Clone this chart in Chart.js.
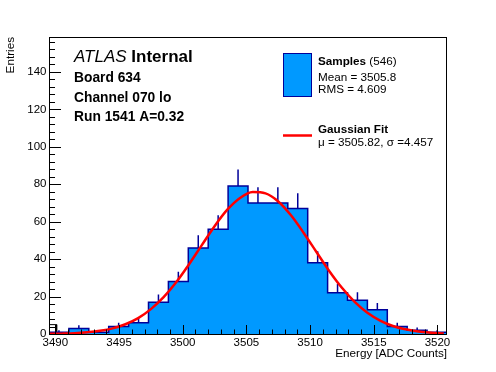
<!DOCTYPE html>
<html>
<head>
<meta charset="utf-8">
<script src="https://cdn.jsdelivr.net/npm/chart.js@4.4.1/dist/chart.umd.min.js"></script>
<style>
  html, body { margin: 0; padding: 0; background: #fff; }
  canvas { display: block; }
</style>
</head>
<body>
<canvas id="chart" width="496" height="372"></canvas>
<script>
// histogram: 20 bins starting at binLow
const binLow = 3489.5
const binWidth = 1.5625
const counts = [1, 3, 1, 4, 6, 17, 28, 46, 56, 79, 70, 70, 67, 38, 22, 18, 13, 4, 2, 1]

// the small empty box at the left edge of the frame
const edgeBoxX = [3489.5, 3490.1]
const edgeBoxY = 5

// gaussian fit
const fitX = [3489.5, 3490.5, 3491.5, 3492.5, 3493.5, 3494.5, 3495.5, 3496.5, 3497.5, 3498.5, 3499.5,
  3500.5, 3501.5, 3502.5, 3503.5, 3504.5, 3505.5, 3506.5, 3507.5, 3508.5, 3509.5, 3510.5,
  3511.5, 3512.5, 3513.5, 3514.5, 3515.5, 3516.5, 3517.5, 3518.5, 3519.5, 3520.5]
const fitY = [0.1, 0.2, 0.4, 0.9, 1.7, 3.0, 5.2, 8.5, 13.3, 19.7, 27.8,
  37.3, 47.5, 57.6, 66.4, 72.7, 75.8, 75.1, 70.8, 63.4, 54.0, 43.8,
  33.7, 24.7, 17.2, 11.4, 7.2, 4.3, 2.5, 1.3, 0.7, 0.3]

const xTicks = [3490, 3495, 3500, 3505, 3510, 3515, 3520]
const xMinorTicks = [3491, 3492, 3493, 3494, 3496, 3497, 3498, 3499, 3501, 3502, 3503, 3504,
  3506, 3507, 3508, 3509, 3511, 3512, 3513, 3514, 3516, 3517, 3518, 3519]
const yTicks = [0, 20, 40, 60, 80, 100, 120, 140]
const yMinorTicks = [4, 8, 12, 16, 24, 28, 32, 36, 44, 48, 52, 56, 64, 68, 72, 76, 84, 88, 92, 96,
  104, 108, 112, 116, 124, 128, 132, 136, 144, 148, 152, 156]
const yMax = 158.66

const FONT = "'Liberation Sans', Arial, Helvetica, sans-serif"
const FILL = "#0099ff"
const LINE = "#000099"

const xMax = binLow + counts.length * binWidth
const edges = counts.map((c, i) => binLow + i * binWidth)

const histPoints = [{ x: binLow, y: 0 }, ...counts.map((c, i) => ({ x: edges[i], y: c })), { x: xMax, y: 0 }]

const errPoints = []
counts.forEach((c, i) => {
  const xc = edges[i] + binWidth / 2
  errPoints.push({ x: xc, y: c }, { x: xc, y: c + Math.sqrt(c) }, { x: xc, y: null })
})

const edgeBox = [
  { x: edgeBoxX[0], y: 0 }, { x: edgeBoxX[0], y: edgeBoxY },
  { x: edgeBoxX[1], y: edgeBoxY }, { x: edgeBoxX[1], y: 0 }
]

const fitPoints = fitX.map((x, i) => ({ x: x, y: fitY[i] }))

// frame, inner ticks and the text boxes drawn on top of the plot
const decorations = {
  id: "decorations",
  afterDraw(chart) {
    const { ctx, chartArea: a, scales: { x, y } } = chart
    ctx.save()
    ctx.strokeStyle = "#000"
    ctx.lineWidth = 1
    ctx.strokeRect(a.left + 0.5, a.top + 0.5, a.right - a.left - 1, a.bottom - a.top)

    ctx.beginPath()
    xTicks.forEach(v => {
      const px = Math.round(x.getPixelForValue(v)) + 0.5
      ctx.moveTo(px, a.bottom); ctx.lineTo(px, a.bottom - 9)
    })
    xMinorTicks.forEach(v => {
      const px = Math.round(x.getPixelForValue(v)) + 0.5
      ctx.moveTo(px, a.bottom); ctx.lineTo(px, a.bottom - 4.5)
    })
    yTicks.forEach(v => {
      const py = Math.round(y.getPixelForValue(v)) + 0.5
      ctx.moveTo(a.left, py); ctx.lineTo(a.left + 12, py)
    })
    yMinorTicks.forEach(v => {
      const py = Math.round(y.getPixelForValue(v)) + 0.5
      ctx.moveTo(a.left, py); ctx.lineTo(a.left + 6, py)
    })
    ctx.stroke()

    ctx.fillStyle = "#000"
    ctx.textBaseline = "alphabetic"
    ctx.textAlign = "left"

    ctx.font = "italic 17px " + FONT
    ctx.fillText("ATLAS", 74, 62)
    const w = ctx.measureText("ATLAS ").width
    ctx.font = "bold 17px " + FONT
    ctx.fillText("Internal", 74 + w, 62)

    ctx.font = "bold 13.8px " + FONT
    ctx.fillText("Board 634", 74, 82)
    ctx.fillText("Channel 070 lo", 74, 102)
    ctx.fillText("Run 1541 A=0.32", 74, 121)

    // legend
    ctx.fillStyle = FILL
    ctx.fillRect(283.5, 53.5, 28, 43)
    ctx.strokeStyle = LINE
    ctx.strokeRect(283.5, 53.5, 28, 43)

    ctx.strokeStyle = "#ff0000"
    ctx.lineWidth = 2.5
    ctx.beginPath(); ctx.moveTo(283, 135.5); ctx.lineTo(312, 135.5); ctx.stroke()

    ctx.fillStyle = "#000"
    ctx.font = "bold 11.7px " + FONT
    ctx.fillText("Samples", 318, 65)
    const ws = ctx.measureText("Samples ").width
    ctx.font = "11.7px " + FONT
    ctx.fillText("(546)", 318 + ws, 65)
    ctx.fillText("Mean = 3505.8", 318, 80.5)
    ctx.fillText("RMS = 4.609", 318, 93.3)
    ctx.font = "bold 11.7px " + FONT
    ctx.fillText("Gaussian Fit", 318, 133.3)
    ctx.font = "11.7px " + FONT
    ctx.fillText("\u03bc = 3505.82, \u03c3 =4.457", 318, 145.5)
    ctx.restore()
  }
}

new Chart(document.getElementById("chart").getContext("2d"), {
  type: "line",
  data: {
    datasets: [
      {
        label: "Gaussian Fit",
        data: fitPoints,
        borderColor: "#ff0000",
        borderWidth: 2.5,
        pointRadius: 0,
        cubicInterpolationMode: "monotone",
        fill: false,
        order: 0
      },
      {
        label: "errors",
        data: errPoints,
        borderColor: LINE,
        borderWidth: 1.5,
        pointRadius: 0,
        spanGaps: false,
        fill: false,
        order: 1
      },
      {
        label: "Samples",
        data: histPoints,
        stepped: "before",
        borderColor: LINE,
        borderWidth: 1.5,
        borderJoinStyle: "miter",
        backgroundColor: FILL,
        fill: "origin",
        pointRadius: 0,
        order: 2
      },
      {
        label: "edge",
        data: edgeBox,
        borderColor: "#000",
        borderWidth: 1,
        borderJoinStyle: "miter",
        pointRadius: 0,
        fill: false,
        order: 3
      }
    ]
  },
  options: {
    responsive: false,
    animation: false,
    events: [],
    layout: { padding: { top: 37, right: 49, left: 0, bottom: 0 } },
    plugins: {
      legend: { display: false },
      tooltip: { enabled: false }
    },
    scales: {
      x: {
        type: "linear",
        min: binLow,
        max: xMax,
        afterBuildTicks: s => { s.ticks = xTicks.map(v => ({ value: v })) },
        afterFit: s => { s.height = 38 },
        grid: { display: false, drawTicks: false },
        border: { display: false },
        ticks: { color: "#000", font: { family: FONT, size: 11.5 }, padding: 2, maxRotation: 0, autoSkip: false, callback: v => String(v) },
        title: { display: true, text: "Energy [ADC Counts]", align: "end", color: "#000", font: { family: FONT, size: 11.7 }, padding: { top: 0, bottom: 11 } }
      },
      y: {
        type: "linear",
        min: 0,
        max: yMax,
        afterBuildTicks: s => { s.ticks = yTicks.map(v => ({ value: v })) },
        afterFit: s => { s.width = 49 },
        grid: { display: false, drawTicks: false },
        border: { display: false },
        ticks: { color: "#000", font: { family: FONT, size: 11.5 }, padding: 2.5, autoSkip: false, callback: v => String(v) },
        title: { display: true, text: "Entries", align: "end", color: "#000", font: { family: FONT, size: 11.7 }, padding: { top: 4, bottom: 0 } }
      }
    }
  },
  plugins: [decorations]
})
</script>
</body>
</html>
